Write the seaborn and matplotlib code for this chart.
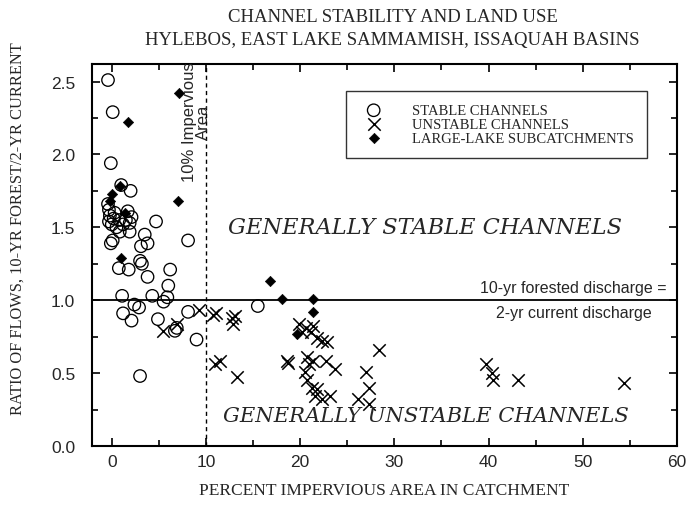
import numpy as np
import pandas as pd
import matplotlib
matplotlib.use('Agg')
import matplotlib.pyplot as plt
import seaborn as sns
from matplotlib.ticker import MultipleLocator

# stable channels (open circles)
stable_x = [-0.4, 0.1, -0.1, 1.0, 2.0, 1.7, 4.7, 3.5, 3.8, 3.1, 8.1, 0.1, -0.1, 0.85, 1.9,
            3.0, 3.2, 0.75, 1.8, 6.2, 3.8, 6.0, 5.9, 1.1, 4.3, 5.5, 2.4, 2.9, 1.2, 2.1,
            4.9, 6.7, 6.9, 8.1, 9.0, 3.0, 15.5,
            -0.3, -0.2, -0.3, 0.0, 0.2, 0.5, 0.8, 1.2, 1.5, 1.9, 2.1, -0.4, 0.3]
stable_y = [2.51, 2.29, 1.94, 1.79, 1.75, 1.61, 1.54, 1.45, 1.39, 1.37, 1.41, 1.41, 1.39, 1.47, 1.47,
            1.27, 1.25, 1.22, 1.21, 1.21, 1.16, 1.10, 1.02, 1.03, 1.03, 0.99, 0.97, 0.95, 0.91, 0.86,
            0.87, 0.79, 0.81, 0.92, 0.73, 0.48, 0.96,
            1.62, 1.58, 1.54, 1.52, 1.56, 1.50, 1.55, 1.52, 1.55, 1.53, 1.57, 1.66, 1.60]

# unstable channels (crosses)
unstable_x = [9.3, 5.4, 6.9, 10.7, 11.1, 12.8, 13.1, 12.9, 11.0, 11.5, 13.3, 18.6, 18.7,
              19.9, 20.6, 21.4, 20.2, 21.1, 21.8, 22.3, 22.8, 20.7, 20.9, 21.4, 22.7, 23.7,
              20.5, 20.7, 21.3, 21.8, 21.6, 22.3, 23.2, 28.4, 27.0, 27.3, 26.1, 27.3,
              39.7, 40.4, 40.5, 43.1, 54.4]
unstable_y = [0.93, 0.79, 0.84, 0.90, 0.91, 0.88, 0.89, 0.84, 0.56, 0.58, 0.47, 0.58, 0.57,
              0.84, 0.81, 0.82, 0.78, 0.78, 0.74, 0.72, 0.71, 0.61, 0.56, 0.58, 0.58, 0.53,
              0.51, 0.45, 0.40, 0.39, 0.34, 0.32, 0.34, 0.66, 0.51, 0.40, 0.32, 0.29,
              0.56, 0.50, 0.45, 0.45, 0.43]

# large-lake subcatchments (filled diamonds)
lake_x = [7.1, 1.7, 0.9, 0.0, -0.2, 7.0, 1.4, 1.0, 16.8, 18.1, 21.4, 21.4, 19.7]
lake_y = [2.42, 2.22, 1.78, 1.73, 1.68, 1.68, 1.60, 1.29, 1.13, 1.01, 1.01, 0.92, 0.77]

x_ticks = [0, 10, 20, 30, 40, 50, 60]
y_ticks = [0.0, 0.5, 1.0, 1.5, 2.0, 2.5]

stable = pd.DataFrame({'x': stable_x, 'y': stable_y})
unstable = pd.DataFrame({'x': unstable_x, 'y': unstable_y})
lake = pd.DataFrame({'x': lake_x, 'y': lake_y})

sns.set_style('ticks')
serif = ['Liberation Serif', 'DejaVu Serif']
sans = ['Liberation Sans', 'DejaVu Sans']
plt.rcParams['font.family'] = sans

fig = plt.figure(figsize=(6.89, 5.06), dpi=100)
ax = fig.add_axes([0.1335, 0.1166, 0.8491, 0.7549])

sns.scatterplot(data=stable, x='x', y='y', ax=ax, marker='o', s=80,
                facecolor='none', edgecolor='black', linewidth=0.95,
                label='STABLE CHANNELS', zorder=3)
sns.scatterplot(data=unstable, x='x', y='y', ax=ax, marker='x', s=80,
                color='black', linewidth=1.1, label='UNSTABLE CHANNELS', zorder=3)
sns.scatterplot(data=lake, x='x', y='y', ax=ax, marker='D', s=28,
                color='black', edgecolor='black', label='LARGE-LAKE SUBCATCHMENTS', zorder=4)

ax.axhline(1.0, color='black', lw=1.3, zorder=2)
ax.axvline(10, color='black', lw=1.0, ls=(0, (3, 2.5)), zorder=2)

ax.set_xlim(-2.1, 60)
ax.set_ylim(0, 2.62)
ax.set_xticks(x_ticks)
ax.set_yticks(y_ticks)
ax.set_yticklabels([f'{v:.1f}' for v in y_ticks])
ax.xaxis.set_minor_locator(MultipleLocator(5))
ax.yaxis.set_minor_locator(MultipleLocator(0.25))
ax.tick_params(which='both', direction='in', top=True, right=True,
               labelsize=12.5, color='black', width=1.2)
ax.tick_params(which='major', length=6)
ax.tick_params(which='minor', length=4)
ax.tick_params(axis='y', which='major', pad=12)
ax.tick_params(axis='x', which='major', pad=6)
for s in ax.spines.values():
    s.set_linewidth(1.5)
    s.set_color('black')

ax.set_xlabel('PERCENT IMPERVIOUS AREA IN CATCHMENT', family=serif, fontsize=12.5, labelpad=9)
ax.set_ylabel('')
fig.text(0.026, 0.18, 'RATIO OF FLOWS, 10-YR FOREST/2-YR CURRENT', family=serif,
         fontsize=11.8, rotation=90, ha='center', va='bottom')

fig.text(0.57, 0.965, 'CHANNEL STABILITY AND LAND USE', family=serif, fontsize=13.5,
         ha='center', va='center')
fig.text(0.57, 0.92, 'HYLEBOS, EAST LAKE SAMMAMISH, ISSAQUAH BASINS', family=serif,
         fontsize=13.5, ha='center', va='center')

ax.text(9.0, 2.23, '10% Impervious\nArea', rotation=90, ha='center', va='center',
        fontsize=12, linespacing=0.95)
ax.text(33.3, 1.50, 'GENERALLY STABLE CHANNELS', family=['DejaVu Serif'], style='italic',
        fontsize=16.2, ha='center', va='center')
ax.text(33.4, 0.21, 'GENERALLY UNSTABLE CHANNELS', family=['DejaVu Serif'], style='italic',
        fontsize=15.2, ha='center', va='center')
ax.text(49.0, 1.035, '10-yr forested discharge =', fontsize=11.5, ha='center', va='bottom')
ax.text(49.0, 0.965, '2-yr current discharge', fontsize=11.5, ha='center', va='top')

leg = ax.legend(loc='upper right', bbox_to_anchor=(0.948, 0.93), frameon=True, fancybox=False,
                edgecolor='black', prop={'family': serif, 'size': 10.5},
                handletextpad=1.6, borderpad=0.9, labelspacing=0.05, borderaxespad=0)
leg.get_frame().set_linewidth(1.0)

fig.savefig('out.png', dpi=100)
